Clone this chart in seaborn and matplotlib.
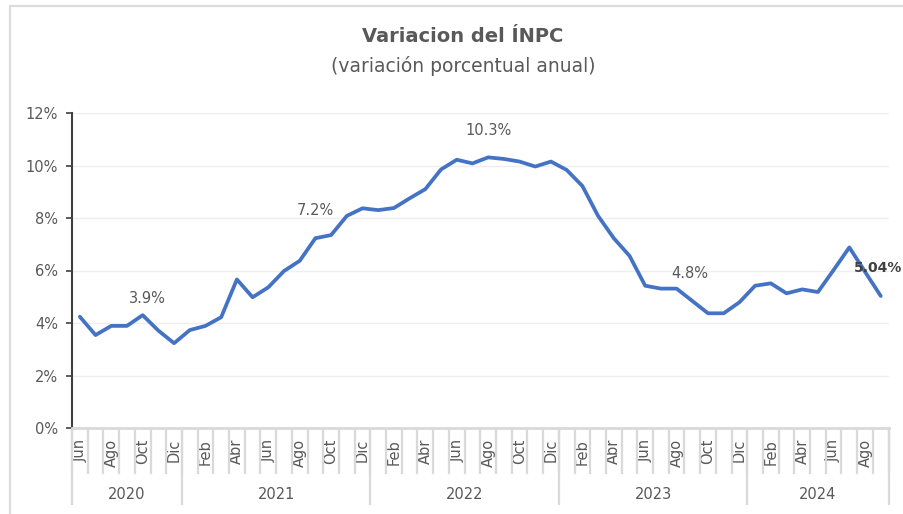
import numpy as np
import pandas as pd
import matplotlib
matplotlib.use('Agg')
import matplotlib.pyplot as plt
import matplotlib.transforms as mtransforms
from matplotlib.lines import Line2D
import seaborn as sns

# monthly annual INPC variation, Jun 2020 - Sep 2024
months = ['Jun', 'Jul', 'Ago', 'Sep', 'Oct', 'Nov', 'Dic',
          'Ene', 'Feb', 'Mar', 'Abr', 'May', 'Jun', 'Jul', 'Ago', 'Sep', 'Oct', 'Nov', 'Dic',
          'Ene', 'Feb', 'Mar', 'Abr', 'May', 'Jun', 'Jul', 'Ago', 'Sep', 'Oct', 'Nov', 'Dic',
          'Ene', 'Feb', 'Mar', 'Abr', 'May', 'Jun', 'Jul', 'Ago', 'Sep', 'Oct', 'Nov', 'Dic',
          'Ene', 'Feb', 'Mar', 'Abr', 'May', 'Jun', 'Jul', 'Ago', 'Sep']
years = ['2020', '2021', '2022', '2023', '2024']
months_per_year = [7, 12, 12, 12, 9]
inpc = [4.24, 3.54, 3.89, 3.89, 4.30, 3.71, 3.23,
        3.73, 3.89, 4.22, 5.66, 4.98, 5.36, 5.98, 6.37, 7.23, 7.35, 8.08, 8.37,
        8.30, 8.38, 8.75, 9.10, 9.85, 10.22, 10.08, 10.31, 10.25, 10.15, 9.96, 10.15,
        9.83, 9.22, 8.08, 7.23, 6.56, 5.42, 5.31, 5.31, 4.84, 4.37, 4.37, 4.79,
        5.42, 5.51, 5.13, 5.28, 5.18, 6.02, 6.88, 5.95, 5.03]

# callout labels: text, x (month index), y (%)
note_text = ['3.9%', '7.2%', '10.3%', '4.8%']
note_x = [4.3, 15.0, 26.05, 38.85]
note_y = [4.95, 8.27, 11.35, 5.9]
last_text = '5.04%'

df = pd.DataFrame({'idx': np.arange(len(inpc)), 'inpc': inpc})

sns.set_style('white')
plt.rcParams['font.family'] = ['DejaVu Sans']

gray = '#595959'
blue = '#4472C4'

fig = plt.figure(figsize=(9.04, 5.14), dpi=100)
ax = fig.add_axes([72 / 904, 1 - 428 / 514, (888.6 - 72) / 904, 315 / 514])

sns.lineplot(data=df, x='idx', y='inpc', ax=ax, color=blue, linewidth=2.7)

ax.set_xlim(-0.5, len(inpc) - 0.5)
ax.set_ylim(0, 12)
ax.set_yticks(range(0, 13, 2))
ax.set_yticklabels([f'{v}%' for v in range(0, 13, 2)], color=gray, fontsize=10.5)
ax.yaxis.grid(True, color='#eeeeee', linewidth=1)
ax.set_xlabel('')
ax.set_ylabel('')

# month labels every other month
ax.set_xticks(np.arange(0, len(inpc), 2))
ax.set_xticklabels(months[::2], rotation=90, color=gray, fontsize=10.5)
ax.set_xticks(np.arange(-0.5, len(inpc), 1), minor=True)
ax.tick_params(axis='x', which='major', bottom=True, length=0, pad=8)
ax.tick_params(axis='x', which='minor', bottom=True, length=33, width=1.6,
               color='#d9d9d9', direction='out')
ax.tick_params(axis='y', which='major', left=True, length=4, width=1.2,
               color='#404040', direction='out', pad=6)

for side in ['top', 'right']:
    ax.spines[side].set_visible(False)
ax.spines['left'].set_color('#404040')
ax.spines['left'].set_linewidth(1.5)
ax.spines['bottom'].set_color('#d9d9d9')
ax.spines['bottom'].set_linewidth(2)

# year groups
trans = mtransforms.blended_transform_factory(ax.transData, ax.transAxes)
bounds = np.concatenate([[0], np.cumsum(months_per_year)]) - 0.5
for b in bounds:
    ax.plot([b, b], [0, -0.245], transform=trans, color='#d9d9d9', linewidth=1.6,
            clip_on=False, solid_capstyle='butt')
for i, yr in enumerate(years):
    ax.text((bounds[i] + bounds[i + 1]) / 2, -0.21, yr, transform=trans,
            ha='center', va='center', color=gray, fontsize=10.5)

# callouts
for t, x, y in zip(note_text, note_x, note_y):
    ax.text(x, y, t, ha='center', va='center', color=gray, fontsize=10.5)
ax.text(len(inpc) - 1.15, 6.1, last_text, ha='center', va='center', color='#404040',
        fontsize=10, fontweight='bold', clip_on=False)

fig.text(0.512, 1 - 37 / 514, 'Variacion del ÍNPC', ha='center', va='center',
         fontsize=14, fontweight='bold', color=gray)
fig.text(0.512, 1 - 66 / 514, '(variación porcentual anual)', ha='center', va='center',
         fontsize=13.5, color=gray)

# chart frame
fig.add_artist(Line2D([10 / 904, 10 / 904], [0, 1 - 5.5 / 514], transform=fig.transFigure,
                      color='#dcdcdc', linewidth=1.6))
fig.add_artist(Line2D([10 / 904, 1], [1 - 5.5 / 514, 1 - 5.5 / 514], transform=fig.transFigure,
                      color='#dcdcdc', linewidth=1.6))

fig.savefig('out.png', dpi=100)
